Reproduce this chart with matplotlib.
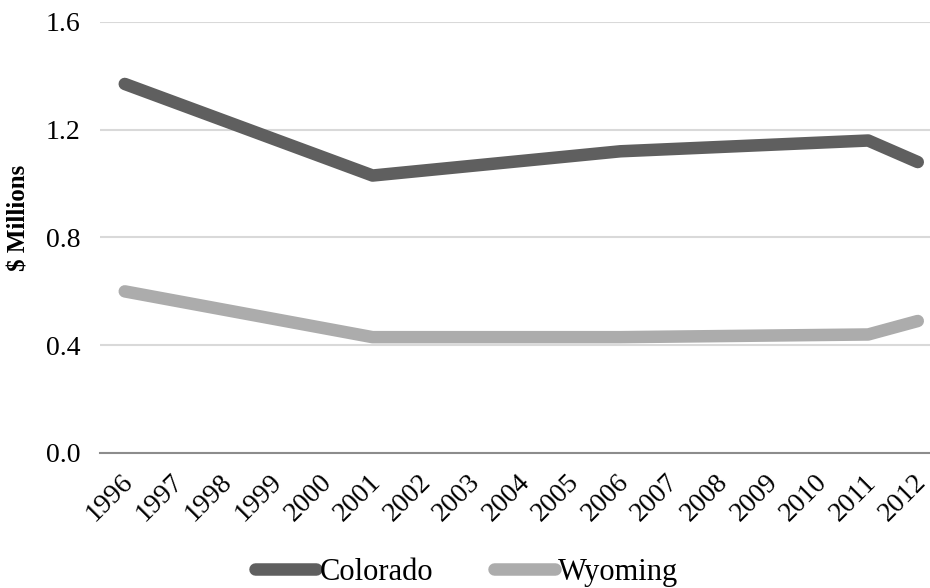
import matplotlib.pyplot as plt
from matplotlib.transforms import ScaledTranslation

years = list(range(1996, 2013))
data_years = [1996, 2001, 2006, 2011, 2012]
colorado = [1.37, 1.03, 1.12, 1.16, 1.08]
wyoming = [0.60, 0.43, 0.43, 0.44, 0.49]

plt.rcParams['font.family'] = ['Liberation Serif', 'DejaVu Serif']

fig = plt.figure(figsize=(9.3, 5.88), dpi=100)
ax = fig.add_axes([0.1075, 0.2296, 0.906, 0.733])

x = [years.index(y) for y in data_years]
ax.plot(x, colorado, color='#5f5f5f', lw=9, solid_capstyle='round',
        solid_joinstyle='round', label='Colorado', zorder=3)
ax.plot(x, wyoming, color='#acacac', lw=9, solid_capstyle='round',
        solid_joinstyle='round', label='Wyoming', zorder=3)

ax.set_xlim(-0.5, len(years) - 0.5)
ax.set_ylim(0, 1.6)
ax.set_yticks([0.0, 0.4, 0.8, 1.2, 1.6])
ax.set_yticklabels(['%.1f' % v for v in [0.0, 0.4, 0.8, 1.2, 1.6]])
ax.set_xticks(range(len(years)))
ax.set_xticklabels([str(y) for y in years], rotation=45, ha='right',
                   va='top', rotation_mode='anchor')
ax.tick_params(axis='both', length=0, labelsize=20)
ax.tick_params(axis='x', pad=12)
ax.tick_params(axis='y', pad=14)

# nudge year labels a little left so the last one stays inside
shift = ScaledTranslation(-3 / 72, 0, fig.dpi_scale_trans)
for lbl in ax.get_xticklabels():
    lbl.set_transform(lbl.get_transform() + shift)

ax.grid(axis='y', color='#d9d9d9', lw=1.5)
ax.set_axisbelow(True)
for s in ['top', 'right', 'left']:
    ax.spines[s].set_visible(False)
ax.spines['bottom'].set_color('#8c8c8c')
ax.spines['bottom'].set_linewidth(1.5)

ax.set_ylabel('$ Millions', fontsize=18, fontweight='bold')
ax.yaxis.set_label_coords(-0.082, 0.545)

fig.legend(loc='center', bbox_to_anchor=(0.502, 0.027), ncol=2,
           frameon=False, fontsize=22, handlelength=2.0,
           handletextpad=0.1, columnspacing=2.0)

plt.savefig('out.png', dpi=100)
